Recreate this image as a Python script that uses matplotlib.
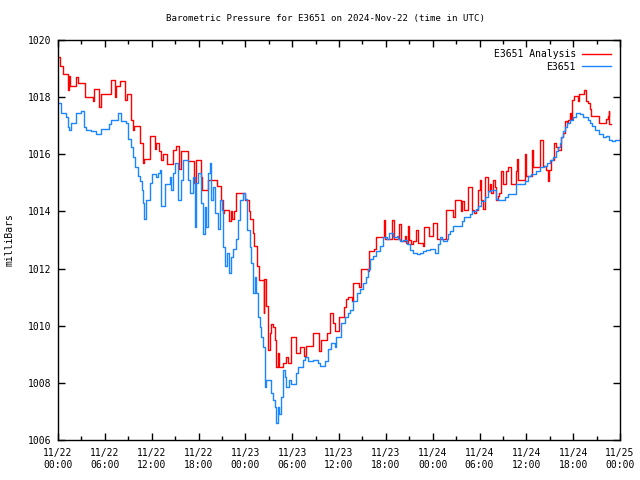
import matplotlib
matplotlib.use("Agg")
import matplotlib.pyplot as plt
import numpy as np

# Hours since 2024-11-22 00:00 UTC, pressure in mb
analysis_t = [0.0,0.2,0.6,1.3,1.4,1.5,2.3,2.5,3.5,4.45,4.55,5.3,5.45,6.75,7.25,7.4,7.9,8.55,8.8,9.3,9.4,9.6,9.8,
    10.55,10.85,11.05,11.75,12.4,12.6,13.0,13.25,13.45,14.0,14.7,15.15,15.55,15.75,16.6,17.45,17.65,18.3,18.5,19.2,
    20.4,20.85,21.1,21.3,21.95,22.1,22.35,22.6,22.75,23.95,24.5,24.65,24.95,25.15,25.55,25.8,26.35,26.45,26.65,26.9,
    27.1,27.3,27.55,27.75,27.95,28.15,28.35,28.8,29.25,29.45,29.8,30.5,30.95,31.5,31.8,32.65,33.5,33.7,34.5,34.9,
    35.2,35.45,36.0,36.7,36.95,37.15,37.7,37.85,38.6,38.85,39.7,39.85,40.5,40.75,41.75,41.95,42.8,43.0,43.7,43.95,
    44.4,44.6,44.8,45.0,45.2,45.45,45.9,46.1,46.7,46.9,47.55,48.0,48.5,49.65,50.55,50.85,51.6,51.8,52.05,52.5,53.1,
    53.35,53.55,53.8,54.0,54.2,54.45,54.65,55.05,55.3,55.5,55.75,55.95,56.15,56.35,56.55,56.8,57.0,57.45,57.65,58.05,
    58.7,58.85,58.95,59.8,60.0,60.75,60.9,61.7,62.1,62.5,62.75,62.95,63.2,63.6,63.85,64.05,64.45,64.7,64.9,65.15,
    65.35,65.55,65.75,65.9,66.05,66.6,66.8,67.45,67.65,67.9,68.1,68.25,69.35,70.15,70.45,70.55,70.65,70.9]
analysis_p = [1019.4,1019.1,1018.8,1018.25,1018.75,1018.4,1018.7,1018.5,1018.0,1017.85,1018.3,1017.65,1018.1,1018.6,
    1018.0,1018.4,1018.55,1017.9,1018.1,1017.6,1017.2,1016.85,1017.0,1016.4,1015.7,1015.85,1016.65,1016.2,1016.4,
    1016.1,1015.8,1016.0,1015.65,1016.15,1016.3,1015.5,1016.1,1015.75,1015.0,1015.8,1015.2,1014.75,1015.1,1014.9,
    1014.4,1013.95,1014.05,1013.65,1014.0,1013.75,1014.0,1014.65,1014.4,1014.0,1013.75,1013.25,1012.8,1012.1,1011.6,
    1010.45,1011.65,1010.7,1009.15,1009.75,1010.05,1009.95,1009.5,1008.55,1009.05,1008.55,1008.7,1008.9,1008.7,
    1009.6,1009.05,1009.25,1008.95,1009.3,1009.75,1009.1,1009.5,1009.75,1010.45,1010.1,1009.8,1010.3,1010.65,
    1010.95,1011.0,1010.85,1011.5,1011.35,1012.0,1011.9,1012.6,1012.7,1013.1,1013.7,1013.05,1013.7,1013.05,1013.55,
    1012.95,1013.15,1012.9,1013.5,1013.0,1012.85,1012.95,1013.35,1012.9,1012.8,1013.45,1013.15,1013.6,1013.05,
    1014.05,1013.8,1014.4,1014.0,1014.35,1014.05,1014.85,1014.05,1013.95,1014.05,1014.75,1015.1,1014.4,1014.1,
    1015.2,1014.7,1014.95,1014.65,1015.1,1014.85,1014.4,1014.55,1014.65,1015.4,1014.95,1015.4,1015.55,1014.95,
    1015.4,1015.85,1015.1,1016.0,1015.25,1016.15,1015.55,1016.5,1015.6,1015.45,1015.05,1015.45,1015.8,1016.4,
    1016.25,1016.15,1016.6,1016.75,1017.15,1017.1,1017.2,1017.45,1017.25,1017.9,1018.05,1017.85,1018.1,1018.25,
    1017.85,1017.8,1017.6,1017.35,1017.1,1017.25,1017.35,1017.5,1017.05,1017.05]

obs_t = [0.0,0.4,1.05,1.3,1.45,1.7,2.35,2.95,3.3,3.6,4.25,4.9,5.55,6.5,6.85,7.65,8.1,8.75,8.95,9.35,9.6,9.85,
    10.25,10.5,10.7,10.9,11.05,11.3,11.75,12.0,12.5,12.85,13.05,13.25,13.7,14.3,14.5,14.75,14.95,15.35,15.8,16.05,
    16.65,16.85,17.3,17.5,17.7,17.95,18.35,18.6,18.8,19.0,19.2,19.45,19.65,19.85,20.05,20.5,20.7,20.95,21.1,21.35,
    21.6,21.9,22.2,22.45,22.75,23.05,23.35,23.7,23.95,24.15,24.55,24.75,25.0,25.2,25.4,25.65,25.85,26.05,26.3,26.5,
    26.65,27.25,27.55,27.75,27.95,28.15,28.35,28.6,28.85,29.05,29.25,29.65,29.9,30.55,30.8,31.4,31.6,32.0,32.65,
    33.3,33.55,34.15,34.55,35.0,35.45,35.65,36.25,36.75,37.15,37.4,37.8,38.25,38.7,39.1,39.5,39.75,39.95,40.4,40.8,
    41.25,41.65,42.1,42.45,42.95,43.4,43.6,43.8,44.25,44.65,45.1,45.5,45.95,46.4,46.8,47.2,47.65,48.25,48.65,48.9,
    49.15,49.35,49.8,50.0,50.2,50.6,51.7,52.05,52.8,53.0,53.6,53.85,54.25,54.7,55.1,55.5,56.15,56.4,57.25,57.7,
    58.7,59.8,60.2,60.6,61.25,61.7,62.2,62.6,63.0,63.45,63.85,64.1,64.3,64.5,64.75,65.0,65.2,65.6,66.0,66.35,66.9,
    67.2,67.9,68.2,68.45,68.8,69.3,69.8,70.25,70.6,71.0,71.4,72.0]
obs_p = [1017.8,1017.45,1017.3,1016.95,1016.85,1017.1,1017.45,1017.5,1016.95,1016.85,1016.8,1016.7,1016.9,1017.05,
    1017.2,1017.45,1017.15,1017.1,1016.55,1016.25,1015.9,1015.55,1015.25,1015.05,1014.75,1014.3,1013.75,1014.4,
    1015.0,1015.3,1015.2,1015.35,1015.45,1014.2,1014.95,1015.2,1014.75,1015.35,1015.7,1014.4,1015.1,1015.8,1015.1,
    1014.65,1015.2,1013.45,1015.0,1015.35,1014.3,1013.2,1014.15,1013.45,1015.35,1015.7,1014.4,1014.85,1013.95,
    1013.4,1014.4,1014.05,1012.75,1012.1,1012.55,1011.85,1012.4,1012.7,1013.05,1013.7,1014.4,1014.65,1014.45,
    1013.35,1012.75,1012.2,1011.15,1011.7,1011.15,1010.3,1009.95,1009.6,1009.25,1007.85,1008.1,1007.65,1007.4,
    1007.15,1006.6,1007.15,1006.9,1007.5,1008.45,1008.2,1007.85,1008.1,1007.95,1008.35,1008.55,1008.8,1008.9,
    1008.75,1008.8,1008.7,1008.6,1008.75,1009.2,1009.4,1009.25,1009.6,1010.1,1010.3,1010.45,1010.55,1010.85,
    1011.15,1011.3,1011.5,1011.7,1012.0,1012.35,1012.45,1012.6,1012.8,1013.1,1013.05,1013.25,1013.1,1013.15,
    1013.05,1012.95,1013.0,1012.85,1012.65,1012.55,1012.5,1012.55,1012.6,1012.65,1012.7,1012.55,1012.85,1013.1,
    1013.05,1012.95,1013.05,1013.2,1013.3,1013.5,1013.65,1013.8,1013.9,1014.0,1014.1,1014.2,1014.35,1014.5,
    1014.7,1014.75,1014.45,1014.4,1014.5,1014.6,1014.95,1015.05,1015.25,1015.3,1015.4,1015.55,1015.6,1015.7,
    1015.8,1015.9,1016.1,1016.25,1016.4,1016.6,1016.8,1016.95,1017.1,1017.2,1017.3,1017.45,1017.4,1017.3,1017.2,
    1017.1,1017.0,1016.85,1016.7,1016.6,1016.65,1016.5,1016.45,1016.5,1016.5]

x_tick_labels = ["11/22\n00:00", "11/22\n06:00", "11/22\n12:00", "11/22\n18:00",
                 "11/23\n00:00", "11/23\n06:00", "11/23\n12:00", "11/23\n18:00",
                 "11/24\n00:00", "11/24\n06:00", "11/24\n12:00", "11/24\n18:00",
                 "11/25\n00:00"]
y_ticks = [1006, 1008, 1010, 1012, 1014, 1016, 1018, 1020]

plt.rcParams['font.family'] = ['DejaVu Sans Mono']
FS = 7

fig = plt.figure(figsize=(6.4, 4.8), dpi=100)
ax = fig.add_axes([58/640, 40/480, 562/640, 400/480])

ax.plot(analysis_t, analysis_p, color='#ff0000', lw=1.0, drawstyle='steps-post', label='E3651 Analysis')
ax.plot(obs_t, obs_p, color='#1a86ff', lw=1.0, drawstyle='steps-post', label='E3651')

ax.set_xlim(0, 72)
ax.set_ylim(1006, 1020)
ax.set_xticks(np.arange(0, 73, 6))
ax.set_xticklabels(x_tick_labels, fontsize=FS)
ax.set_xticks(np.arange(0, 73, 3), minor=True)
ax.set_yticks(y_ticks)
ax.set_yticklabels([str(v) for v in y_ticks], fontsize=FS)
ax.tick_params(which='both', direction='in', top=True, right=True, width=1.0, color='black')
ax.tick_params(which='major', length=5)
ax.tick_params(which='minor', length=3)
ax.tick_params(axis='x', pad=6)
ax.tick_params(axis='y', pad=5)
for s in ax.spines.values():
    s.set_linewidth(1.0)
    s.set_color('black')

fig.text(325/640, 1 - 19/480, "Barometric Pressure for E3651 on 2024-Nov-22 (time in UTC)",
         ha='center', va='center', fontsize=6.6)
fig.text(10/640, 0.5, "milliBars", rotation=90, ha='center', va='center', fontsize=FS)

leg = ax.legend(loc='upper right', frameon=False, markerfirst=False, fontsize=FS,
                handlelength=3.0, handletextpad=0.6, labelspacing=0.25,
                borderaxespad=0.75, borderpad=0.2, bbox_to_anchor=(1.0, 1.0))
for t in leg.get_texts():
    t.set_ha('right')

fig.savefig("out.png", dpi=100)
